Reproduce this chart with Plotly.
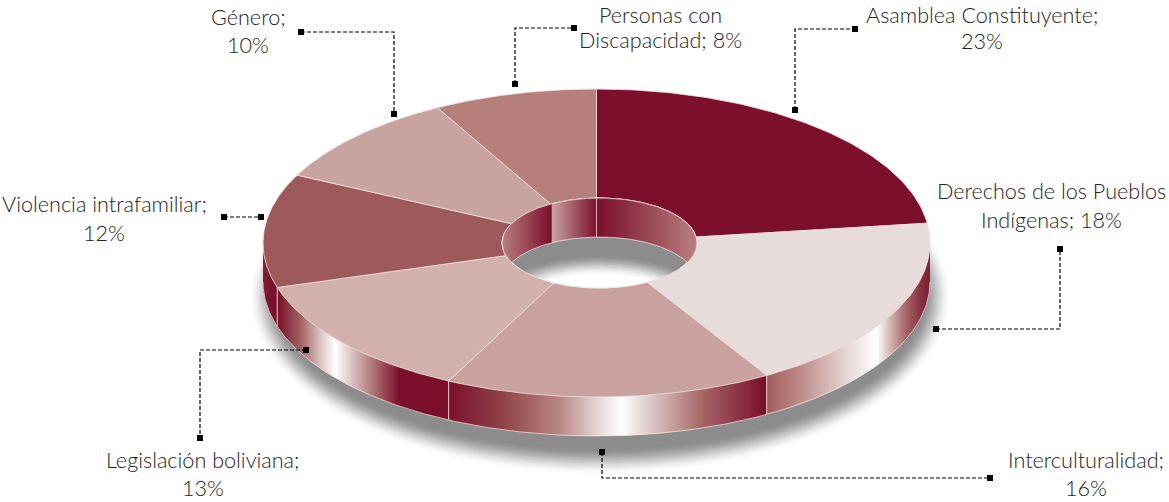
import numpy as np
import plotly.graph_objects as go

# ---- data ----
categories = ["Asamblea Constituyente", "Derechos de los Pueblos Indígenas", "Interculturalidad",
              "Legislación boliviana", "Violencia intrafamiliar", "Género", "Personas con Discapacidad"]
values = [22.9, 18.49, 15.8, 13.0, 11.9, 9.8, 7.9]
slice_colors = ["#7b0f2c", "#e8dcda", "#c9a2a0", "#d2b0ab", "#9e5a5a", "#c9a3a0", "#b77f7c"]

# ---- geometry / style ----
W, H = 1169, 502
CX, CY, RX, RY = 596.5, 243.0, 333.5, 154.0
HX, HY, HRX, HRY = 599.5, 243.0, 97.5, 45.0
DEPTH = 39.0
EDGE = "#eee2e0"
DARK, WHITE = "#7b0f2c", "#ffffff"

def hex2rgb(h):
    return np.array([int(h[i:i + 2], 16) for i in (1, 3, 5)], float)

def grad(x, stops):
    xs = [s[0] for s in stops]
    cols = np.array([hex2rgb(s[1]) for s in stops])
    c = [np.interp(x, xs, cols[:, i]) for i in range(3)]
    return "rgb(%d,%d,%d)" % tuple(int(round(v)) for v in c)

fracs = np.concatenate([[0], np.cumsum(values)]) / sum(values)

def outer(f, dy=0.0):
    a = 2 * np.pi * np.asarray(f)
    return CX + RX * np.sin(a), CY - RY * np.cos(a) + dy

def hole_pt(f, dy=0.0):
    a = 2 * np.pi * np.asarray(f)
    return HX + HRX * np.sin(a), HY - HRY * np.cos(a) + dy

def inner(f):
    """point where the radial line of fraction f (from the pie centre) meets the hole edge"""
    a = 2 * np.pi * np.asarray(f, float)
    dx, dy = np.sin(a) * RX, -np.cos(a) * RY
    ox, oy = (CX - HX) / HRX, (CY - HY) / HRY
    ux, uy = dx / HRX, dy / HRY
    A = ux ** 2 + uy ** 2
    B = 2 * (ox * ux + oy * uy)
    C = ox ** 2 + oy ** 2 - 1
    s = (-B + np.sqrt(B ** 2 - 4 * A * C)) / (2 * A)
    return CX + s * dx, CY + s * dy

def hole_lower(x):
    return HY + HRY * np.sqrt(np.clip(1 - ((x - HX) / HRX) ** 2, 0, 1))

def hole_upper(x, dy=0.0):
    return HY + dy - HRY * np.sqrt(np.clip(1 - ((x - HX) / HRX) ** 2, 0, 1))

fig = go.Figure()

def poly(x, y, fill, line=None, lw=0.0):
    fig.add_trace(go.Scatter(x=list(x), y=list(y), mode="lines", fill="toself", fillcolor=fill,
                             line=dict(color=line or fill, width=lw), hoverinfo="skip", showlegend=False))

def path(x, y, color, lw=1.0, dash=None):
    fig.add_trace(go.Scatter(x=list(x), y=list(y), mode="lines", line=dict(color=color, width=lw, dash=dash),
                             hoverinfo="skip", showlegend=False))

# drop shadow: nested ellipses from white to gray
t = np.linspace(0, 2 * np.pi, 240)
N = 26
for i in range(N):
    k = i / (N - 1)
    rx = 352 - 30 * k
    ry = 180 - 28 * k
    v = 255 - (255 - 140) * (k * k * (3 - 2 * k))
    poly(600 + rx * np.cos(t), 296 + ry * np.sin(t), "rgb(%d,%d,%d)" % (v, v, v))

# side wall gradient, per slice (stops are by on-screen x)
wall_stops = {
    1: [(765, "#9e5a5a"), (800, "#bd8b88"), (850, "#e8dcda"), (877, WHITE), (886, "#e0ccca"), (905, "#a86a6a"), (930, DARK)],
    2: [(447, DARK), (500, "#8f4047"), (560, "#b98684"), (600, "#e8dcda"), (622, WHITE), (640, "#e8dcda"), (700, "#a86a6a"), (765, DARK)],
    3: [(277, DARK), (300, "#a06060"), (320, "#d8c0c0"), (335, WHITE), (345, "#e8dcda"), (370, "#b58080"), (400, DARK), (447, DARK)],
    4: [(263, DARK), (277, DARK)],
}
for idx, stops in wall_stops.items():
    f0, f1 = max(fracs[idx], 0.25), min(fracs[idx + 1], 0.75)
    n = max(int((f1 - f0) * 1100), 2)
    fs = np.linspace(f0, f1, n + 1)
    xs, ys = outer(fs)
    for j in range(n):
        xm = (xs[j] + xs[j + 1]) / 2
        # strip overlaps its neighbour to avoid seams
        j2 = min(j + 2, n)
        poly([xs[j], xs[j2], xs[j2], xs[j]], [ys[j], ys[j2], ys[j2] + DEPTH, ys[j] + DEPTH], grad(xm, stops))
for idx in wall_stops:
    if fracs[idx] >= 0.25:
        bx, by = outer(fracs[idx])
        path([bx, bx], [by, by + DEPTH], EDGE, lw=0.9)

fs = np.linspace(0.25, 0.75, 300)
bx, by = outer(fs, DEPTH)
path(bx, by, EDGE, lw=0.8)

# top face slices
for i, col in enumerate(slice_colors):
    fs = np.linspace(fracs[i], fracs[i + 1], 90)
    ox, oy = outer(fs)
    ix, iy = inner(fs[::-1])
    poly(np.r_[ox, ix, ox[0]], np.r_[oy, iy, oy[0]], col, line=EDGE, lw=0.8)

# hole: base
hx, hy = hole_pt(np.linspace(0, 1, 240))
poly(hx, hy, "#8c8c8c", line=EDGE, lw=1)

# hole: back wall, clipped to the hole
inner_stops = [(502, "#b98080"), (552, DARK), (552.01, "#c9a3a3"), (597, DARK), (697, "#b97f7f")]
xs = np.linspace(HX - HRX, HX + HRX, 260)
for j in range(len(xs) - 1):
    x2 = xs[min(j + 2, len(xs) - 1)]
    xm = (xs[j] + xs[j + 1]) / 2
    tops = hole_upper(np.array([xs[j], x2]))
    bots = np.minimum(hole_upper(np.array([xs[j], x2]), DEPTH), hole_lower(np.array([xs[j], x2])))
    poly([xs[j], x2, x2, xs[j]], [tops[0], tops[1], bots[1], bots[0]], grad(xm, inner_stops))

# hole: floor (gray fading to white)
xx = np.linspace(HX - HRX, HX + HRX, 220)
lower = hole_lower(xx)
upper = hole_upper(xx, DEPTH)
m = upper < lower
N = 20
for i in range(N):
    k = i / (N - 1)
    erx, ery = 108 - 40 * k, 43 - 21 * k
    top = 297 - ery * np.sqrt(np.clip(1 - ((xx - 600) / erx) ** 2, 0, 1))
    mm = (np.abs(xx - 600) < erx) & (top < lower) & m
    if mm.sum() < 3:
        continue
    v = 140 + 115 * (k * k * (3 - 2 * k))
    poly(np.r_[xx[mm], xx[mm][::-1]], np.r_[top[mm], lower[mm][::-1]], "rgb(%d,%d,%d)" % (v, v, v))
path(xx[m], upper[m], EDGE, lw=0.8)
path(xx, lower, EDGE, lw=0.8)
path(xx, hole_upper(xx), EDGE, lw=0.8)
fx, fy = inner(0.0)
path([fx, fx], [fy, hole_upper(np.array([fx]), DEPTH)[0]], EDGE, lw=0.8)

# leader lines
leaders = [
    [(795, 110), (795, 29), (855, 29)],
    [(936, 329), (1060, 329), (1060, 249)],
    [(602, 452), (602, 478), (990, 478)],
    [(306, 350), (200, 350), (200, 438)],
    [(224, 217), (261, 217)],
    [(301, 32), (394, 32), (394, 114)],
    [(515, 84), (515, 28), (574, 28)],
]
for pts in leaders:
    lx = [p[0] for p in pts]
    ly = [p[1] for p in pts]
    path(lx, ly, "#000000", lw=1.2, dash="4px,2px")
    fig.add_trace(go.Scatter(x=[lx[0], lx[-1]], y=[ly[0], ly[-1]], mode="markers",
                             marker=dict(symbol="square", size=6, color="#000000"),
                             hoverinfo="skip", showlegend=False))

# labels
label_breaks = [
    ("Asamblea Constituyente;", "{v}%", 982, 14.5, 41),
    ("Derechos de los Pueblos", "Indígenas; {v}%", 1051, 191, 220),
    ("Interculturalidad;", "{v}%", 1086, 460, 487.5),
    ("Legislación boliviana;", "{v}%", 203, 460, 487.5),
    ("Violencia intrafamiliar;", "{v}%", 104, 204, 233),
    ("Género;", "{v}%", 248, 17, 45),
    ("Personas con", "Discapacidad; {v}%", 660, 14.5, 40),
]
ann = []
FONT = dict(family="Lato", size=21.6, color="#222222", weight=300)
for (a, b, x, y1, y2), v in zip(label_breaks, values):
    txt = b.format(v=round(v))
    ann.append(dict(x=x, y=y1, text=a, showarrow=False, xanchor="center", yanchor="middle", font=FONT))
    ann.append(dict(x=x, y=y2, text=txt, showarrow=False, xanchor="center", yanchor="middle", font=FONT))

fig.update_layout(
    width=W, height=H, margin=dict(l=0, r=0, t=0, b=0),
    paper_bgcolor="white", plot_bgcolor="white", showlegend=False, annotations=ann,
    xaxis=dict(range=[0, W], visible=False, fixedrange=True),
    yaxis=dict(range=[H, 0], visible=False, fixedrange=True),
)
fig.write_html("out.html", config={"displayModeBar": False},
               post_script="document.body.style.margin='0';document.documentElement.style.overflow='hidden';")
